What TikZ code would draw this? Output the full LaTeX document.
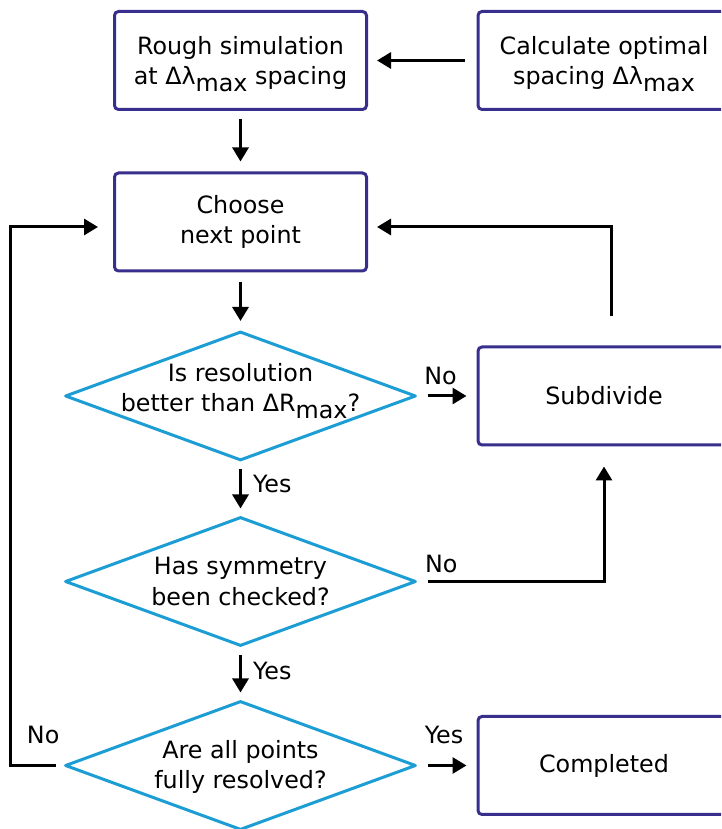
\documentclass[tikz,border=0pt]{standalone}
\usepackage{fontspec}
\setmainfont{DejaVu Sans}
\usetikzlibrary{shapes.geometric,arrows.meta}
\definecolor{boxc}{RGB}{56,46,140}
\definecolor{decc}{RGB}{28,158,212}
\newcommand{\lowsub}[1]{\raisebox{-0.27em}{#1}}
\begin{document}
\begin{tikzpicture}[x=1pt,y=1pt,
  every node/.style={font=\fontsize{23.8}{30.5}\selectfont},
  procbox/.style={draw=boxc, line width=3pt, rounded corners=4pt, minimum width=252pt, minimum height=98pt, align=center, inner sep=0pt},
  decision/.style={draw=decc, line width=3pt, diamond, line join=round, minimum width=351pt, minimum height=129pt, inner sep=0pt},
  dtext/.style={align=center, inner sep=0pt},
  arr/.style={line width=3pt, -{Triangle[length=14pt,width=16pt]}},
  lbl/.style={inner sep=0pt}]
\useasboundingbox (0,0) rectangle (721,829);
\clip (0,0) rectangle (721,829);

% process boxes
\node[procbox, label={[dtext, yshift=-3.5pt]center:Rough simulation\\at Δλ\lowsub{max} spacing}] (b1) at (240.5,768.5) {};
\node[procbox, label={[dtext, yshift=-3.5pt]center:Calculate optimal\\spacing Δλ\lowsub{max}}] (b2) at (604,768.5) {};
\node[procbox] (b3) at (240.5,607) {Choose\\next point};
\node[procbox] (b4) at (604,433) {Subdivide};
\node[procbox] (b5) at (604,63.5) {Completed};

% decisions
\node[decision, label={[dtext, yshift=5pt]center:Is resolution\\better than ΔR\lowsub{max}?}] (d1) at (240.5,433) {};
\node[decision, label={[dtext]center:Has symmetry\\been checked?}] (d2) at (240.5,247.5) {};
\node[decision, label={[dtext, yshift=-1.5pt]center:Are all points\\fully resolved?}] (d3) at (240.5,63.5) {};

\coordinate (lx) at (10,0);

% connectors
\draw[arr, shorten <=12pt, shorten >=9pt] (b2.west) -- (b1.east);
\draw[arr, shorten <=8pt, shorten >=10pt] (b1.south) -- (b3.north);
\draw[arr, shorten <=10pt, shorten >=9pt] (b3.south) -- (d1.north);
\draw[arr, shorten <=7pt, shorten >=7pt] (d1.south) -- node[lbl, pos=0.42, right=11pt] {Yes} (d2.north);
\draw[arr, shorten <=8pt, shorten >=7pt] (d2.south) -- node[lbl, pos=0.45, right=11pt] {Yes} (d3.north);
\draw[arr, shorten <=10pt, shorten >=10pt] (d1.east) -- node[lbl, pos=0.39, above=10pt] {No} (b4.west);
\draw[arr, shorten <=10pt, shorten >=10pt] (d3.east) -- node[lbl, pos=0.45, above=20pt] {Yes} (b5.west);
\draw[arr, shorten <=10pt, shorten >=20pt] (d2.east) -| node[lbl, pos=0.064, above=7pt] {No} (b4.south);
\draw[arr, shorten <=29pt, shorten >=9pt] ([xshift=7pt]b4.north) |- ([yshift=-5pt]b3.east);
\draw[arr, shorten <=8pt, shorten >=15pt] (d3.west) -- node[lbl, pos=0.38, above=20pt] {No} (d3.west -| lx) |- ([yshift=-5pt]b3.west);
\end{tikzpicture}
\end{document}
